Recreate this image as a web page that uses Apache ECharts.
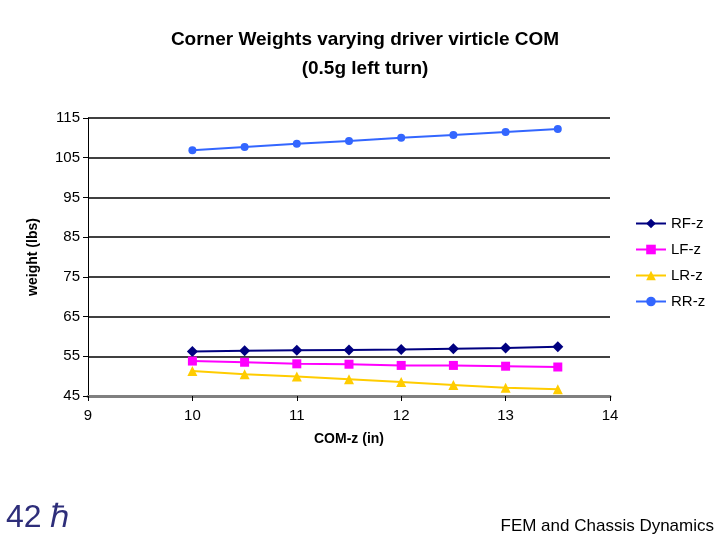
<!DOCTYPE html>
<html><head><meta charset="utf-8">
<script src="https://cdn.jsdelivr.net/npm/echarts@6/dist/echarts.min.js"></script>
<style>html,body{margin:0;padding:0;background:#fff}#c{width:720px;height:540px}</style>
</head><body><div id="c"></div>
<script>
const xValues = [10, 10.5, 11, 11.5, 12, 12.5, 13, 13.5];
const rfZ = [56.2, 56.4, 56.5, 56.6, 56.7, 56.9, 57.1, 57.4];
const lfZ = [53.8, 53.5, 53.1, 53.0, 52.7, 52.7, 52.5, 52.3];
const lrZ = [51.3, 50.5, 49.9, 49.2, 48.5, 47.8, 47.1, 46.7];
const rrZ = [106.9, 107.7, 108.5, 109.2, 110.0, 110.7, 111.5, 112.2];
const pair = a => xValues.map((x, i) => [x, a[i]]);
const font = 'Liberation Sans, Arial, sans-serif';
const mk = (name, data, color, symbol, size) => ({
  name, type: 'line', data: pair(data), symbol, symbolSize: size,
  lineStyle: { color, width: 2 }, itemStyle: { color }
});
const chart = echarts.init(document.getElementById('c'));
chart.setOption({
  animation: false,
  textStyle: { fontFamily: font },
  title: {
    text: 'Corner Weights varying driver virticle COM\n(0.5g left turn)',
    left: 360, top: 20, textAlign: 'center',
    textStyle: { fontSize: 19, fontWeight: 'bold', color: '#000', lineHeight: 29, fontFamily: font }
  },
  graphic: [
    { type: 'text', left: 6, top: 502, style: { text: '42 ℏ', fontSize: 32, fill: '#2e2e7a', fontFamily: font } },
    { type: 'text', right: 6, top: 518, style: { text: 'FEM and Chassis Dynamics', fontSize: 17, fill: '#000', fontFamily: font } }
  ],
  legend: {
    orient: 'vertical', left: 630, top: 211, itemGap: 11, itemWidth: 30, itemHeight: 12,
    textStyle: { fontSize: 15, color: '#000', fontFamily: font },
    data: ['RF-z', 'LF-z', 'LR-z', 'RR-z']
  },
  grid: { left: 88, right: 110, top: 118, bottom: 144 },
  xAxis: {
    type: 'value', min: 9, max: 14, interval: 1,
    name: 'COM-z (in)', nameLocation: 'middle', nameGap: 36,
    nameTextStyle: { fontSize: 14, fontWeight: 'bold', color: '#000' },
    axisLine: { lineStyle: { color: '#808080', width: 3 } },
    axisTick: { show: true, lineStyle: { color: '#000' } },
    axisLabel: { fontSize: 15, color: '#000', margin: 12 },
    splitLine: { show: false }
  },
  yAxis: {
    type: 'value', min: 45, max: 115, interval: 10,
    name: 'weight (lbs)', nameLocation: 'middle', nameGap: 48,
    nameTextStyle: { fontSize: 14, fontWeight: 'bold', color: '#000' },
    axisLine: { show: true, lineStyle: { color: '#000' } },
    axisTick: { show: true, lineStyle: { color: '#000' } },
    axisLabel: { fontSize: 15, color: '#000' },
    splitLine: { lineStyle: { color: '#000', width: 1.5 } }
  },
  series: [
    mk('RF-z', rfZ, '#000080', 'diamond', 11),
    mk('LF-z', lfZ, '#ff00ff', 'rect', 9),
    mk('LR-z', lrZ, '#ffcc00', 'triangle', 10),
    mk('RR-z', rrZ, '#3366ff', 'circle', 8)
  ]
});
</script></body></html>
